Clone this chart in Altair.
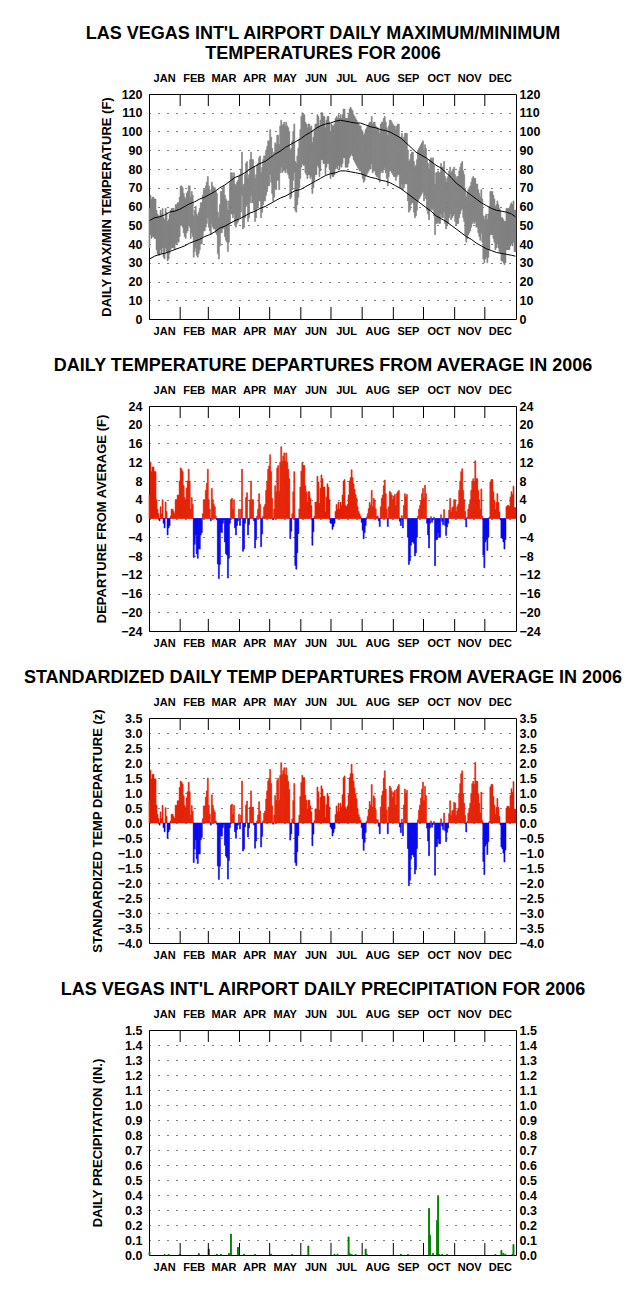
import altair as alt
import pandas as pd

FONT = "Liberation Sans"
RED, BLUE, GRAY, GREEN = "#E41E00", "#0000EE", "#808080", "#008000"
W, H = 367, 225

MONTHS = ["JAN", "FEB", "MAR", "APR", "MAY", "JUN", "JUL", "AUG", "SEP", "OCT", "NOV", "DEC"]
MONTH_LEN = [31, 28, 31, 30, 31, 30, 31, 31, 30, 31, 30, 31]

# ---- daily mean temperature departures (F) ----
DEP_JAN = [5,12,10,11,11,10,10,4,2,1, -0.5,2.5,1,4,-1,-2,3.5,1.5,-3.5,-2, -1.5,0.5,2,2,1.5,1,4,4,5,5,8]
DEP_FEB = [10.8,10.5,10,7,4.5,4,6.5,8,10.5,8,2,4.5,3, -8.3,-5.5,-3.5,-7.5,-8.5,-6.5,-6.5,-3.5,-3, 1,4,4,6,7.5,10.5]
DEP_MAR = [4,2,-0.5,6.4,4,3,2.5,0.5,-0.3,-9.7,-12.8, -9.8,-2.8,-3,-1,-0.3,-5,-7.5,-7.8,-12.7,-8.5, -1,4,4.3,2,4,-2,-3.5,-1.5,-0.5,2]
DEP_APR = [-1.5,2,10.5,-7,-6.5,-1,4.5,5.5,-3.5,-1.3, 4,8,4,4,-0.5,-6.3,-4.5,0.5,2,5.3, 3,-6,-3.3,0.5,2.5,3,6,8,10.5,11.2]
DEP_MAY = [13.6,10,4.3,-0.3,2,7,5.7,10.8,11.3,5.8, 12,15.3,12.2,13.3,14,12.2,14,12,10.5,8.5, -4.3,-2.7,1,5.7,10,-10,-10.8,-7.3,-3.2,2,6.7]
DEP_JUN = [10.1,11.9,11.3,11.3,7,5.7,3.5,5.7,5.7,4.3, 2.8,-5.7,-2.8,0.5,3.5,3.5,9,7.8,3.2,6.4, 9.3,8.5,6.7,6.7,1.4,4.6,7.4,6.7,4,-1]
DEP_JUL = [-1,-2.3,-1.7,-1,1.5,3,2,3.5,2,3.5, 2.8,5,8,8.3,2.8,2.5,3,5,8,8.7, 10.4,8.7,7.4,6.2,5.1,4.3,2.5,1.5,1,0.5,-0.8]
DEP_AUG = [-2.5,-4.3,-3,-1.5,0.3,1,2.1,3.4,2.8,6, 2.5,4.3,3.9,2.1,0.5,0.5,-0.5,-1.7,2.5,4.3, 5,7,8.2,5.3,2,-1.7,2.5,5.8,5.5,5,4]
DEP_SEP = [4.8,5.1,2.8,5.3,5.7,6,-0.6,-1.5,0.6,-2, 2.8,5.3,4.6,5.1,-4,-9.8,-9,-5.7,-5,-5, -5.3,-8,-7.3,-4,0.5,2,2.8,3.9,5.3,6.4]
DEP_OCT = [4.3,7.1,5.3,-1,-3.5,-6.3,-1,0.4,-0.8,-0.3, 0.3,-10.1,-4.5,-4.5,-3,-4,-4,0.8,-0.6,-1.3, 1.9,-1.5,-3.6,-1.8,-1,1.8,4.3,1.4,2.3,2.5,4]
DEP_NOV = [4,1.5,2.5,3,6,8,10,10.6,6,4, 1.5,-1.8,0.3,2,3,4,6,8,8.5,7.8, 12.3,8.5,8.5,6,4,2,6.3,0.5,-7.8,-10.5]
DEP_DEC = [-5,-4.5,-6.8,-4,0.3,7.8,8.3,8.3,5.7,3.9, 1.9,3.4,5.3,3.4,1.4,-0.3,-4,-4.3,-5,-6.5, -4.5,2.5,2.8,2.8,2.5,4.6,5.7,5.1,6.9,2.3,2.3]

# ---- standardized departures (z) ----
Z_JAN = [0.74,1.76,1.47,1.62,1.62,1.47,1.47,0.59,0.29,0.15, -0.07,0.37,0.15,0.59,-0.15,-0.29,0.51,0.22,-0.51,-0.29, -0.22,0.07,0.29,0.29,0.22,0.15,0.59,0.59,0.74,0.74,1.18]
Z_FEB = [1.40,1.36,1.30,0.91,0.58,0.52,0.84,1.04,1.36,1.04,0.26,0.58,0.39, -1.32,-0.87,-0.56,-1.19,-1.35,-1.03,-1.03,-0.56,-0.48, 0.14,0.57,0.57,0.86,1.07,1.50]
Z_MAR = [0.59,0.29,-0.07,0.94,0.59,0.44,0.37,0.07,-0.04,-1.43,-1.88, -1.44,-0.41,-0.44,-0.15,-0.04,-0.74,-1.10,-1.15,-1.87,-1.25, -0.15,0.59,0.63,0.29,0.59,-0.29,-0.51,-0.22,-0.07,0.29]
Z_APR = [-0.20,0.27,1.40,-0.93,-0.87,-0.13,0.60,0.73,-0.47,-0.17, 0.53,1.07,0.53,0.53,-0.07,-0.84,-0.60,0.07,0.27,0.71, 0.40,-0.80,-0.44,0.07,0.33,0.40,0.80,1.07,1.40,1.49]
Z_MAY = [1.79,1.32,0.57,-0.04,0.26,0.92,0.75,1.42,1.49,0.76, 1.58,2.01,1.61,1.75,1.84,1.61,1.84,1.58,1.38,1.12, -0.57,-0.36,0.13,0.75,1.32,-1.32,-1.42,-0.96,-0.42,0.26,0.88]
Z_JUN = [1.35,1.59,1.51,1.51,0.93,0.76,0.47,0.76,0.76,0.57, 0.37,-0.76,-0.37,0.07,0.47,0.47,1.20,1.04,0.43,0.85, 1.24,1.13,0.89,0.89,0.19,0.61,0.99,0.89,0.53,-0.13]
Z_JUL = [-0.19,-0.43,-0.32,-0.19,0.28,0.57,0.38,0.66,0.38,0.66, 0.53,0.94,1.51,1.57,0.53,0.47,0.57,0.94,1.51,1.64, 1.96,1.64,1.40,1.17,0.96,0.81,0.47,0.28,0.19,0.09,-0.15]
Z_AUG = [-0.53,-0.91,-0.64,-0.32,0.06,0.21,0.45,0.72,0.60,1.28, 0.53,0.91,0.83,0.45,0.11,0.11,-0.11,-0.36,0.53,0.91, 1.06,1.49,1.74,1.13,0.43,-0.36,0.53,1.23,1.17,1.06,0.85]
Z_SEP = [1.02,1.09,0.60,1.13,1.21,1.28,-0.13,-0.32,0.13,-0.43, 0.60,1.13,0.98,1.09,-0.85,-2.09,-1.91,-1.21,-1.06,-1.06, -1.13,-1.70,-1.55,-0.85,0.11,0.43,0.60,0.83,1.13,1.36]
Z_OCT = [0.74,1.22,0.91,-0.17,-0.60,-1.09,-0.17,0.07,-0.14,-0.05, 0.05,-1.74,-0.78,-0.78,-0.52,-0.69,-0.69,0.14,-0.10,-0.22, 0.33,-0.26,-0.62,-0.31,-0.17,0.31,0.74,0.24,0.40,0.43,0.69]
Z_NOV = [0.66,0.25,0.41,0.49,0.98,1.31,1.64,1.74,0.98,0.66, 0.25,-0.30,0.05,0.33,0.49,0.66,0.98,1.31,1.39,1.28, 2.02,1.39,1.39,0.98,0.66,0.33,1.03,0.08,-1.28,-1.72]
Z_DEC = [-0.77,-0.69,-1.05,-0.62,0.05,1.20,1.28,1.28,0.88,0.60, 0.29,0.52,0.82,0.52,0.22,-0.06,-0.80,-0.86,-1.00,-1.30, -0.90,0.50,0.56,0.56,0.50,0.92,1.14,1.02,1.38,0.46,0.46]

# ---- observed daily max / min temperatures (F) ----
TMAX_JAN = [59,66,64,65,65,64,64,58,56,55, 55,58,56,59,54,53,59,57,52,53, 56,58,59,59,59,58,61,61,62,62,65]
TMIN_JAN = [38,45,43,44,44,43,43,37,35,34, 34,37,35,38,33,32,38,36,31,32, 35,37,38,38,38,37,40,40,41,41,44]
TMAX_FEB = [71,71,70,67,65,64,67,68,71, 71,65,68,66,55,58,60,56,55,57, 59,62,62,66,69,69,71,73,76]
TMIN_FEB = [50,50,49,46,44,43,46,47,50, 49,43,46,44,33,36,38,34,33,35, 37,40,40,44,47,47,49,51,54]
TMAX_MAR = [71,69,67,73,71,70,70,68,67,57,54, 61,68,68,70,71,66,64,63,58,63, 73,78,78,76,78,72,71,73,74,76]
TMIN_MAR = [49,47,45,51,49,48,48,46,45,35,32, 39,46,46,48,49,44,42,41,36,41, 51,56,56,54,56,50,49,51,52,54]
TMAX_APR = [77,80,89,71,72,77,83,84,75,77, 85,89,85,85,81,75,77,82,83,86, 87,78,81,85,87,87,90,92,95,95]
TMIN_APR = [54,57,66,48,49,54,60,61,52,54, 62,66,62,62,58,52,54,59,60,63, 63,54,57,61,63,63,66,68,71,71]
TMAX_MAY = [101,97,91,87,89,94,93,98,98,93, 103,106,103,104,105,103,105,103,102,100, 90,91,95,100,104,84,83,87,91,96,101]
TMIN_MAY = [77,73,67,63,65,70,69,74,74,69, 78,81,78,79,80,78,80,78,77,75, 64,65,69,74,78,58,57,61,65,70,75]
TMAX_JUN = [108,110,109,109,105,104,102,104,104,102, 103,94,97,101,104,104,109,108,103,106, 110,110,108,108,102,106,108,108,105,100]
TMIN_JUN = [81,83,82,82,78,77,75,77,77,75, 76,67,70,74,77,77,82,81,76,79, 85,85,83,83,77,81,83,83,80,75]
TMAX_JUL = [104,103,103,104,107,108,107,109,107,109, 107,109,112,112,107,107,107,109,112,113, 112,111,109,108,107,106,105,104,103,103,101]
TMIN_JUL = [77,76,76,77,80,81,80,82,80,82, 81,83,86,86,81,81,81,83,86,87, 88,87,85,84,83,82,81,80,79,79,77]
TMAX_AUG = [100,98,99,101,102,103,104,105,105,108, 104,105,105,103,102,102,101,99,104,105, 105,107,108,105,102,98,103,106,106,105,104]
TMIN_AUG = [75,73,74,76,77,78,79,80,80,83, 78,79,79,77,76,76,75,73,78,79, 78,80,81,78,75,71,76,79,79,78,77]
TMAX_SEP = [103,103,101,103,104,104,97,97,99,96, 97,99,99,99,90,84,85,88,89,89, 84,81,82,85,90,91,92,93,94,95]
TMIN_SEP = [76,76,74,76,77,77,70,70,72,69, 70,72,72,72,63,57,58,61,62,62, 57,54,55,58,63,64,65,66,67,68]
TMAX_OCT = [90,93,91,85,83,80,85,86,85,86, 82,72,78,78,79,78,78,83,81,81,84, 76,73,75,76,79,81,78,79,80,81]
TMIN_OCT = [63,66,64,58,56,53,58,59,58,59, 55,45,51,51,52,51,51,56,54,54,57, 51,48,50,51,54,56,53,54,55,56]
TMAX_NOV = [77,75,76,76,79,81,83,84,79,77, 69,65,67,69,70,71,73,75,76,75, 75,72,72,69,67,65,69,64,55,53]
TMIN_NOV = [52,50,51,51,54,56,58,59,54,52, 45,41,43,45,46,47,49,51,52,51, 52,49,49,46,44,42,46,41,32,30]
TMAX_DEC = [55,56,53,56,60,68,68,68,66,64, 60,61,63,61,59,58,54,54,53,52, 52,59,59,59,59,61,62,61,63,58,58]
TMIN_DEC = [32,33,30,33,37,45,45,45,43,41, 37,38,40,38,36,35,31,31,30,29, 30,37,37,37,37,39,40,39,41,36,36]

# ---- normal max / min (F), every 5 days ----
NORM_DAY = [1,6,11,16,21,26,31,36,41,46,51,56,61,66,71,76,81,86,91,96,101,106,111,116,121,126,131,136,141,146,
            151,156,161,166,171,176,181,186,191,196,201,206,211,216,221,226,231,236,241,246,251,256,261,266,271,276,
            281,286,291,296,301,306,311,316,321,326,331,336,341,346,351,356,361,365]
NORM_MAX = [52.5,54,54.5,55.5,57,57.5,58.5,60,61.5,62.5,64,65,66.5,68,70,71.5,73.5,75.5,76.5,78,80,81.5,83,84,86,88,89.5,91.5,93,94.5,
            96,98,99.5,101.5,103,104,104.5,105.5,106,105.5,105,104.5,104.5,103.5,102.5,102,101,100.5,99.5,98,96.5,94,91.5,89,87.5,86,
            84,82,80.5,78,75.5,72.5,70.5,68,66,64,62,60.5,59,58,57.5,57,56,54.5]
NORM_MIN = [32,33.5,34.5,35,36,37,38,39,40.5,41.5,42.5,44,45,46.5,48.5,49.5,51,52.5,53.5,55,56.5,57.5,59,60,61.5,63,64.5,65.5,67,68.5,
            69,70.5,72,73.5,75,76.5,77.5,78,79,79,78.5,78,77.5,76.5,75.5,75,74,73.5,72.5,71,69.5,67.5,65.5,63.5,61.5,59.5,
            57.5,55,53.5,52,50,48,46,44,42.5,40.5,39,37.5,36.5,35.5,35,34.5,34,33.5]

# ---- daily precipitation (in.) ----
PRCP_DAY = [1,16,20,31,50,60,68,72,80,82,89,95,106,122,143,159,185,188,199,200,
            202,206,216,217,251,258,279,280,283,287,288,289,292,297,345,351,353,355,362,363]
PRCP_IN = [0.02,0.003,0.003,0.003,0.01,0.04,0.005,0.005,0.01,0.14,0.05,0.005,0.003,0.005,0.003,0.06,0.005,0.005,0.12,0.01,
           0.003,0.003,0.04,0.005,0.005,0.003,0.31,0.13,0.01,0.23,0.39,0.003,0.003,0.003,0.003,0.03,0.01,0.005,0.005,0.07]


def join(*parts):
    out = []
    for p in parts:
        out.extend(p)
    return out


DEP = join(DEP_JAN, DEP_FEB, DEP_MAR, DEP_APR, DEP_MAY, DEP_JUN, DEP_JUL, DEP_AUG, DEP_SEP, DEP_OCT, DEP_NOV, DEP_DEC)
Z = join(Z_JAN, Z_FEB, Z_MAR, Z_APR, Z_MAY, Z_JUN, Z_JUL, Z_AUG, Z_SEP, Z_OCT, Z_NOV, Z_DEC)
TMAX = join(TMAX_JAN, TMAX_FEB, TMAX_MAR, TMAX_APR, TMAX_MAY, TMAX_JUN, TMAX_JUL, TMAX_AUG, TMAX_SEP, TMAX_OCT, TMAX_NOV, TMAX_DEC)
TMIN = join(TMIN_JAN, TMIN_FEB, TMIN_MAR, TMIN_APR, TMIN_MAY, TMIN_JUN, TMIN_JUL, TMIN_AUG, TMIN_SEP, TMIN_OCT, TMIN_NOV, TMIN_DEC)


def daily(values, name):
    n = len(values)
    return pd.DataFrame({"x0": [i for i in range(n)], "x1": [i + 1 for i in range(n)], name: values, "zero": [0] * n})


dep_df = daily(DEP, "v")
z_df = daily(Z, "v")
nt = min(len(TMAX), len(TMIN))
temp_df = pd.DataFrame({"x0": list(range(nt)), "x1": [i + 1 for i in range(nt)], "tmax": TMAX[:nt], "tmin": TMIN[:nt]})
norm_df = pd.DataFrame({"x": [d - 0.5 for d in NORM_DAY], "nmax": NORM_MAX, "nmin": NORM_MIN})
prcp_df = pd.DataFrame({"x0": [d - 1 for d in PRCP_DAY], "x1": PRCP_DAY, "v": PRCP_IN, "zero": [0] * len(PRCP_DAY)})

starts = [0]
for m in MONTH_LEN:
    starts.append(starts[-1] + m)
months_df = pd.DataFrame({"m": MONTHS, "mid": [(starts[i] + starts[i + 1]) / 2 for i in range(12)]})
bounds_df = pd.DataFrame({"b": starts[1:12]})

XS = alt.Scale(domain=[0, 365], nice=False, zero=False)


def xenc(field):
    return alt.X(field, type="quantitative", scale=XS, axis=None)


def left_axis(values, title, fmt, title_x):
    return alt.Axis(orient="left", values=values, format=fmt, title=title,
                    titleX=title_x, titleY=H / 2, titleAngle=-90, titleBaseline="middle", titleAlign="center",
                    titleFont=FONT, titleFontSize=13, titleFontWeight="bold", titleColor="black",
                    labelFont=FONT, labelFontSize=12.5, labelFontWeight="bold", labelColor="black",
                    labelPadding=7, labelOverlap=False, labelFlush=False,
                    ticks=False, domain=False, grid=True, gridColor="black", gridDash=[1, 8],
                    gridWidth=1, gridOpacity=1)


def right_axis(values, fmt):
    return alt.Axis(orient="right", values=values, format=fmt, title=None,
                    labelFont=FONT, labelFontSize=12.5, labelFontWeight="bold", labelColor="black",
                    labelPadding=3, labelOverlap=False, labelFlush=False,
                    ticks=False, domain=False, grid=False)


def month_layers():
    top_ticks = alt.Chart(bounds_df).mark_rule(color="black", strokeWidth=1).encode(
        x=xenc("b"), y=alt.value(0), y2=alt.value(12))
    bot_ticks = alt.Chart(bounds_df).mark_rule(color="black", strokeWidth=1).encode(
        x=xenc("b"), y=alt.value(H - 12), y2=alt.value(H))
    top_lab = alt.Chart(months_df).mark_text(font=FONT, fontSize=11, fontWeight="bold", color="black",
                                             baseline="middle").encode(x=xenc("mid"), y=alt.value(-15), text="m:N")
    bot_lab = alt.Chart(months_df).mark_text(font=FONT, fontSize=11, fontWeight="bold", color="black",
                                             baseline="middle").encode(x=xenc("mid"), y=alt.value(H + 13), text="m:N")
    return [top_ticks, bot_ticks, top_lab, bot_lab]


def title(text):
    return alt.TitleParams(text=text, font=FONT, fontSize=18, fontWeight="bold", color="black",
                           anchor="middle", frame="group", dx=-9.5, offset=10, lineHeight=20)


def solid_bar(color):
    return alt.MarkDef(type="bar", color=color, stroke=color, strokeWidth=0.6)


# Panel 1: max/min temperatures
ys1 = alt.Scale(domain=[0, 120], nice=False, zero=False)
v1 = list(range(0, 121, 10))
band = alt.Chart(temp_df).mark_bar(color=GRAY, stroke=GRAY, strokeWidth=0.6).encode(
    x=xenc("x0"), x2="x1",
    y=alt.Y("tmin:Q", scale=ys1, axis=left_axis(v1, "DAILY MAX/MIN TEMPERATURE (F)", "d", -43)),
    y2="tmax:Q")
nmax_line = alt.Chart(norm_df).mark_line(color="black", strokeWidth=1).encode(
    x=xenc("x"), y=alt.Y("nmax:Q", scale=ys1, axis=None))
nmin_line = alt.Chart(norm_df).mark_line(color="black", strokeWidth=1).encode(
    x=xenc("x"), y=alt.Y("nmin:Q", scale=ys1, axis=right_axis(v1, "d")))
p1 = alt.layer(band, nmax_line, nmin_line, *month_layers()).resolve_axis(y="independent").properties(
    width=W, height=H, title=title(["LAS VEGAS INT'L AIRPORT DAILY MAXIMUM/MINIMUM", "TEMPERATURES FOR 2006"]))


def dep_panel(df, dom, vals, fmt, ytitle, title_x, ttl):
    ys = alt.Scale(domain=dom, nice=False, zero=False)
    pos = alt.Chart(df).transform_filter(alt.datum.v >= 0).mark_bar(color=RED, stroke=RED, strokeWidth=0.6).encode(
        x=xenc("x0"), x2="x1",
        y=alt.Y("v:Q", scale=ys, axis=left_axis(vals, ytitle, fmt, title_x)), y2="zero:Q")
    neg = alt.Chart(df).transform_filter(alt.datum.v < 0).mark_bar(color=BLUE, stroke=BLUE, strokeWidth=0.6).encode(
        x=xenc("x0"), x2="x1",
        y=alt.Y("v:Q", scale=ys, axis=right_axis(vals, fmt)), y2="zero:Q")
    return alt.layer(pos, neg, *month_layers()).resolve_axis(y="independent").properties(
        width=W, height=H, title=title(ttl))


p2 = dep_panel(dep_df, [-24, 24], list(range(-24, 25, 4)), "d", "DEPARTURE FROM AVERAGE (F)", -48,
               "DAILY TEMPERATURE DEPARTURES FROM AVERAGE IN 2006")
p3 = dep_panel(z_df, [-4, 3.5], [x / 2 for x in range(-8, 8)], ".1f", "STANDARDIZED TEMP DEPARTURE (z)", -52,
               "STANDARDIZED DAILY TEMP DEPARTURES FROM AVERAGE IN 2006")

# Panel 4: precipitation
ys4 = alt.Scale(domain=[0, 1.5], nice=False, zero=False)
v4 = [x / 10 for x in range(0, 16)]
pr = alt.Chart(prcp_df).mark_bar(color=GREEN, stroke=GREEN, strokeWidth=0.5).encode(
    x=xenc("x0"), x2="x1",
    y=alt.Y("v:Q", scale=ys4, axis=left_axis(v4, "DAILY PRECIPITATION (IN.)", ".1f", -52)), y2="zero:Q")
pr_r = alt.Chart(prcp_df).mark_bar(color=GREEN, stroke=GREEN, strokeWidth=0.5).encode(
    x=xenc("x0"), x2="x1",
    y=alt.Y("v:Q", scale=ys4, axis=right_axis(v4, ".1f")), y2="zero:Q")
p4 = alt.layer(pr, pr_r, *month_layers()).resolve_axis(y="independent").properties(
    width=W, height=H, title=title("LAS VEGAS INT'L AIRPORT DAILY PRECIPITATION FOR 2006"))

chart = alt.vconcat(p1, p2, p3, p4, spacing=18).properties(
    padding={"left": 14, "top": 16, "right": 0, "bottom": 0}, background="white"
).configure_view(stroke="black", strokeWidth=1)

chart.save("out.html", embed_options={"renderer": "svg", "actions": False})
